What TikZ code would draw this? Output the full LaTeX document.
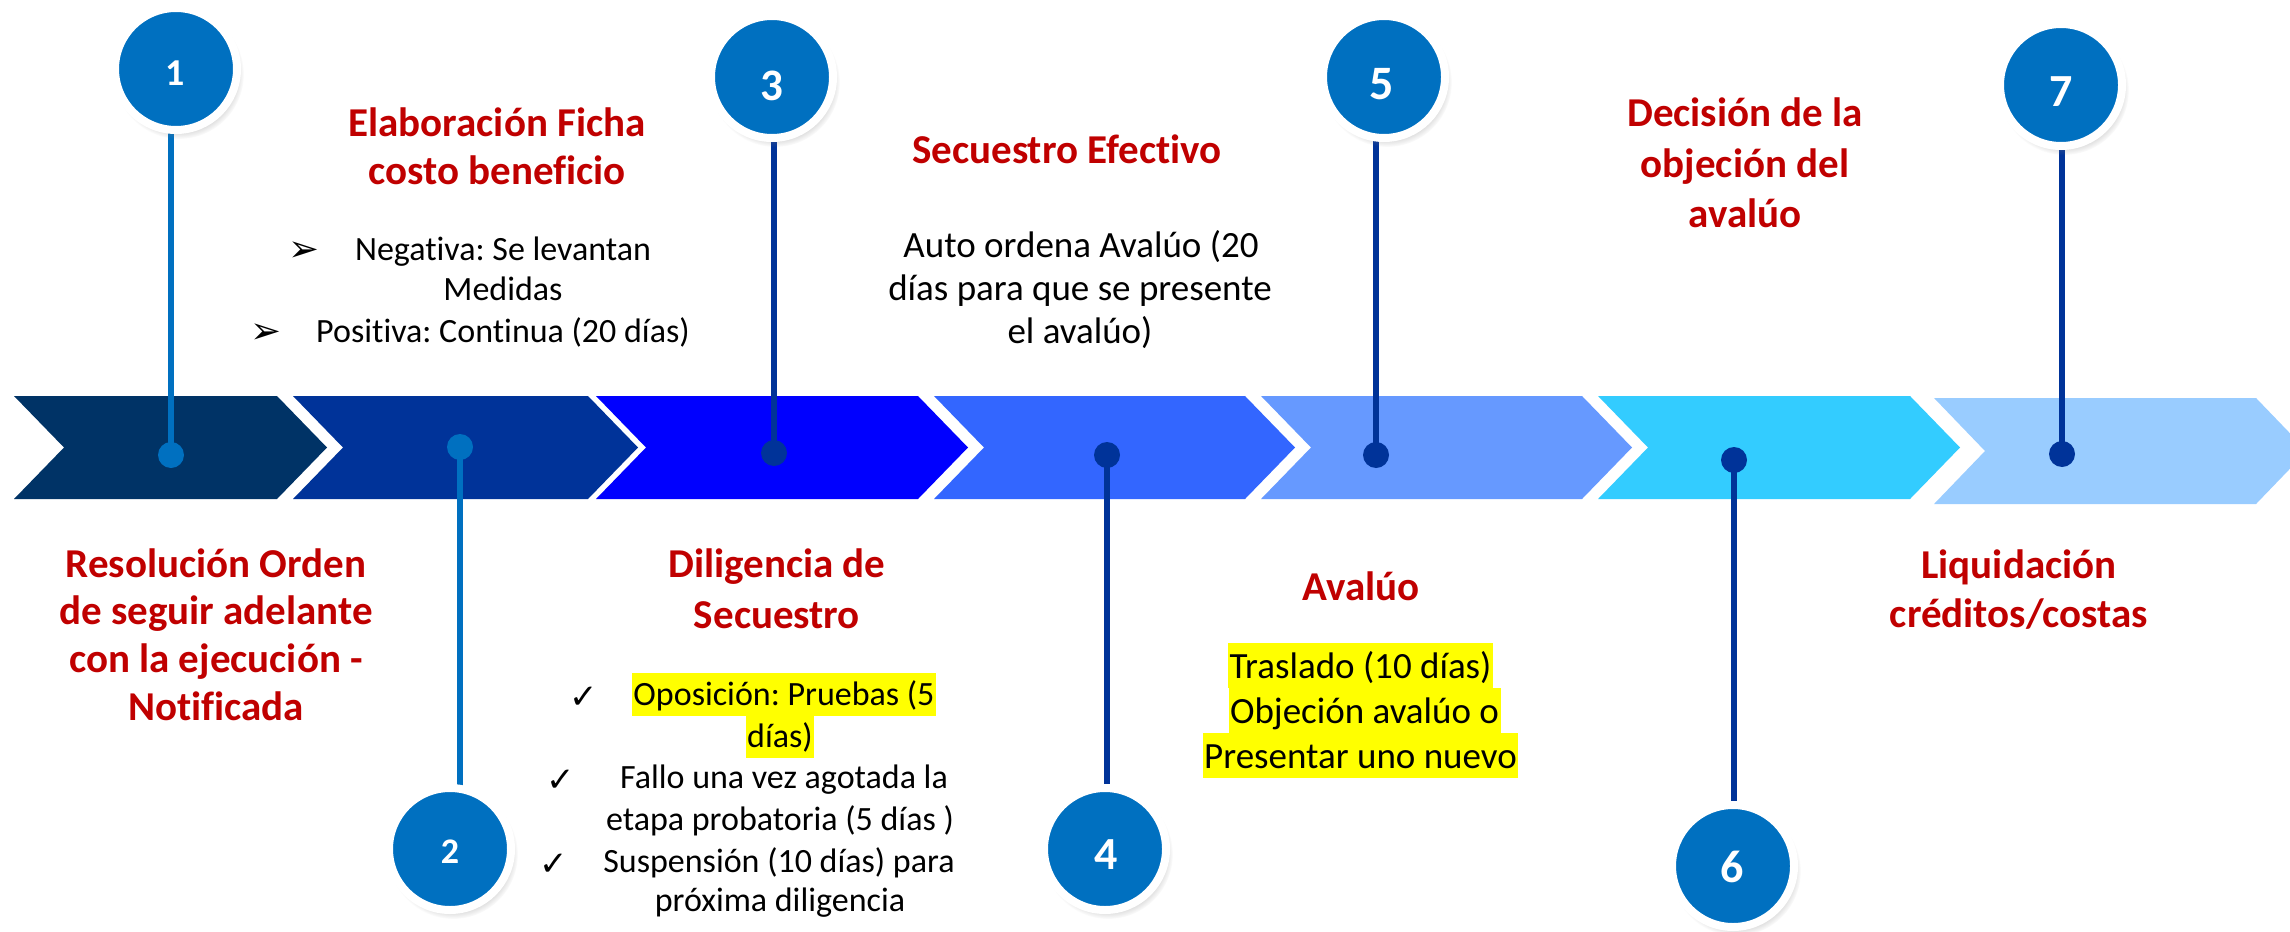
\documentclass[tikz,border=0pt]{standalone}
\usepackage{fontspec}
\setmainfont{Carlito}[Ligatures={NoCommon}]
\newfontfamily\symf{DejaVu Sans}
\usetikzlibrary{shadows}
\frenchspacing
\pgfdeclarelayer{bg}\pgfdeclarelayer{mid}\pgfsetlayers{bg,mid,main}
\definecolor{chA}{HTML}{003366}
\definecolor{chB}{HTML}{003399}
\definecolor{chC}{HTML}{0000FF}
\definecolor{chD}{HTML}{3366FF}
\definecolor{chE}{HTML}{6699FF}
\definecolor{chF}{HTML}{33CCFF}
\definecolor{chG}{HTML}{99CCFF}
\definecolor{numblue}{HTML}{0070C0}
\definecolor{darkstem}{HTML}{003399}
\definecolor{redtxt}{HTML}{C00000}
\definecolor{hlyellow}{HTML}{FFFF00}
\newcommand\numf[1]{\fontsize{#1}{#1}\selectfont\bfseries}
\tikzset{
  title/.style={anchor=base, inner sep=0pt, text=redtxt, font=\fontsize{41}{49}\selectfont\bfseries\frenchspacing},
  body/.style={anchor=base, inner sep=0pt, font=\fontsize{34}{41}\selectfont\frenchspacing},
  bodyL/.style={anchor=base, inner sep=0pt, font=\fontsize{37}{45}\selectfont\frenchspacing},
  hlA/.style={body, fill=hlyellow, inner xsep=1pt, inner ysep=0pt, text height=32pt, text depth=11pt},
  hlB/.style={bodyL, fill=hlyellow, inner xsep=1.5pt, inner ysep=0pt, text height=35pt, text depth=10pt},
  numc/.style={circle, fill=numblue, draw=white, line width=8pt, minimum size=122pt, inner sep=0pt,
    circular drop shadow={shadow xshift=3pt, shadow yshift=-5pt, shadow scale=1.06, opacity=0.35}},
  numt/.style={inner sep=0pt, text=white, text depth=0pt},
  dotL/.style={circle, inner sep=0pt, minimum size=26pt, fill=numblue},
  dotD/.style={circle, inner sep=0pt, minimum size=26pt, fill=darkstem},
  stemL/.style={draw=numblue, line width=5.5pt},
  stemD/.style={draw=darkstem, line width=5.5pt},
  bulA/.style={anchor=base east, inner sep=0pt, font=\symf\fontsize{37}{37}\selectfont},
  bulC/.style={anchor=base east, inner sep=0pt, font=\symf\fontsize{34}{34}\selectfont},
}
\begin{document}
\begin{tikzpicture}[x=1pt,y=-1pt]
\useasboundingbox (0,0) rectangle (2290,931);
\begin{pgfonlayer}{bg}
  \fill[white] (0,0) rectangle (2290,931);
  \clip (0,0) rectangle (2290,931);
  \foreach \L/\R/\c in {14/277/chA, 293/588/chB, 596/918/chC, 934/1245/chD, 1261/1582/chE, 1598/1910/chF}{
    \fill[\c] (\L,396) -- (\R,396) -- (\R+50,447.5) -- (\R,499) -- (\L,499) -- (\L+50,447.5) -- cycle;
  }
  \fill[chG] (1934,398) -- (2256,398) -- (2307,451) -- (2256,504) -- (1934,504) -- (1985,451) -- cycle;
\end{pgfonlayer}

% numbered circles
\node[numc] (c1) at (176,69) {};
\node[numc] (c2) at (450,849) {};
\node[numc] (c3) at (772,77) {};
\node[numc] (c4) at (1105,849) {};
\node[numc] (c5) at (1384,77) {};
\node[numc] (c6) at (1733,866) {};
\node[numc] (c7) at (2061,85) {};
\node[numt, font=\numf{38}, text height=24pt] (n1) at (175,73.5) {1};
\node[numt, font=\numf{36}, text height=22.7pt] (n2) at (450,852) {2};
\node[numt, font=\numf{45}, text height=28.3pt] (n3) at (772,86) {3};
\node[numt, font=\numf{46}, text height=29pt] (n4) at (1106,855) {4};
\node[numt, font=\numf{48}, text height=30.2pt] (n5) at (1382,84) {5};
\node[numt, font=\numf{46}, text height=29pt] (n6) at (1732,868) {6};
\node[numt, font=\numf{46}, text height=29pt] (n7) at (2061,92) {7};

% dots on the chevrons
\node[dotL] (d1) at (171,455) {};
\node[dotL] (d2) at (460,447) {};
\node[dotD] (d3) at (774,453) {};
\node[dotD] (d4) at (1107,455) {};
\node[dotD] (d5) at (1376,455) {};
\node[dotD] (d6) at (1734,460) {};
\node[dotD] (d7) at (2062,454) {};

\begin{pgfonlayer}{mid}
  \draw[stemL] (d1.center) -- (d1.center |- c1.center);
  \draw[stemL] (d2.center) -- (d2.center |- c2.center);
  \draw[stemD] (d3.center) -- (d3.center |- c3.center);
  \draw[stemD] (d4.center) -- (d4.center |- c4.center);
  \draw[stemD] (d5.center) -- (d5.center |- c5.center);
  \draw[stemD] (d6.center) -- (d6.center |- c6.center);
  \draw[stemD] (d7.center) -- (d7.center |- c7.center);
\end{pgfonlayer}

% step 1 (below)
\node[title] (r1a) at (216,577) {Resolución Orden};
\node[title] (r1b) at (216,624) {de seguir adelante};
\node[title] (r1c) at (216,672) {con la ejecución -};
\node[title] (r1d) at (216,720) {Notificada};

% step 2 (above)
\node[title] (r2a) at (497,136) {Elaboración Ficha};
\node[title] (r2b) at (497,184) {costo beneficio};
\node[body] (b2a) at (503,260) {Negativa: Se levantan};
\node[body] (b2b) at (503,300) {Medidas};
\node[body] (b2c) at (503,342) {Positiva: Continua (20 días)};
\node[bulA] (k2a) at ([xshift=-35pt,yshift=-1pt]b2a.base west) {➢};
\node[bulA] (k2c) at ([xshift=-34pt,yshift=-1pt]b2c.base west) {➢};

% step 3 (below)
\node[title] (r3a) at (777,577) {Diligencia de};
\node[title] (r3b) at (777,628) {Secuestro};
\node[hlA] (b3a) at (784,705) {Oposición: Pruebas (5\ };
\node[hlA] (b3b) at (780,747) {días)};
\node[body] (b3c) at (784,788) {Fallo una vez agotada la};
\node[body] (b3d) at (780,830) {etapa probatoria (5 días )};
\node[body] (b3e) at (779,872) {Suspensión (10 días) para};
\node[body] (b3f) at (780,911) {próxima diligencia};
\node[bulC] (k3a) at ([xshift=-34pt,yshift=-3pt]b3a.base west) {✓};
\node[bulC] (k3c) at ([xshift=-45pt,yshift=-3pt]b3c.base west) {✓};
\node[bulC] (k3e) at ([xshift=-35pt,yshift=-3pt]b3e.base west) {✓};

% step 4 (above)
\node[title] (r4a) at (1067,163) {Secuestro Efectivo};
\node[bodyL] (b4a) at (1081,257) {Auto ordena Avalúo (20};
\node[bodyL] (b4b) at (1080,300) {días para que se presente};
\node[bodyL] (b4c) at (1080,343) {el avalúo)};

% step 5 (below)
\node[title] (r5a) at (1361,600) {Avalúo};
\node[hlB] (b5a) at (1360.5,678) {Traslado (10 días)};
\node[hlB] (b5b) at (1364.5,723) {Objeción avalúo o\ };
\node[hlB] (b5c) at (1360.5,768) {Presentar uno nuevo};

% step 6 (above)
\node[title] (r6a) at (1745,127) {Decisión de la};
\node[title] (r6b) at (1745,177) {objeción del};
\node[title] (r6c) at (1745,227) {avalúo};

% step 7 (below)
\node[title] (r7a) at (2019,578) {Liquidación};
\node[title] (r7b) at (2019,627) {créditos/costas};
\end{tikzpicture}
\end{document}
